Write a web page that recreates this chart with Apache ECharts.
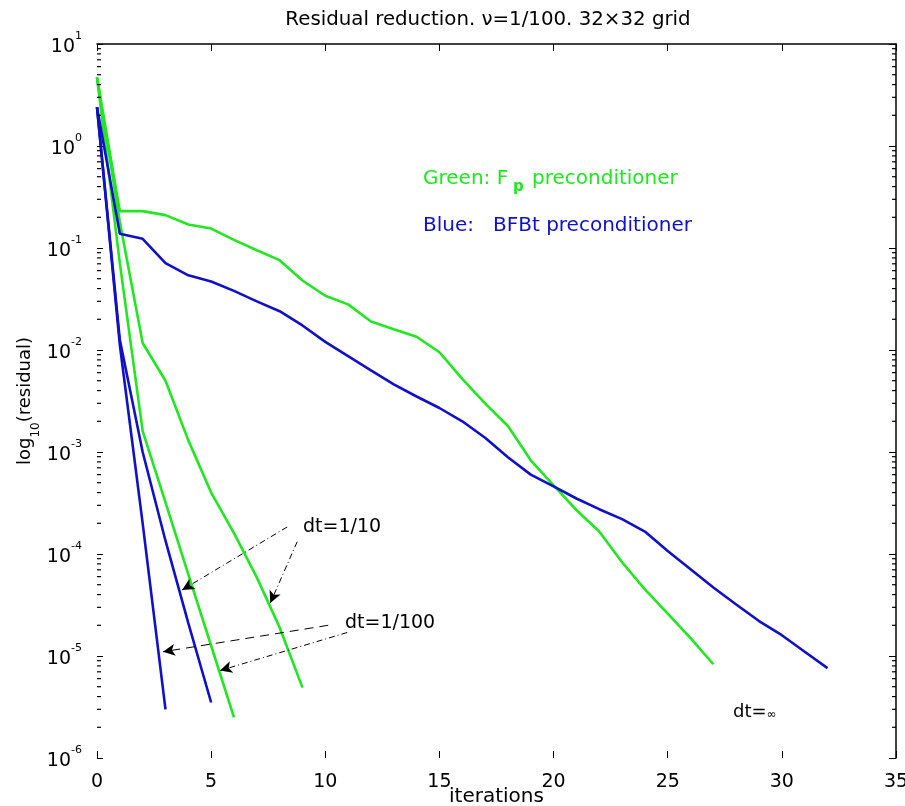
<!DOCTYPE html>
<html><head><meta charset="utf-8">
<script src="https://cdn.jsdelivr.net/npm/echarts@6/dist/echarts.min.js"></script>
<style>html,body{margin:0;padding:0;background:#fff;width:100%;height:100%;overflow:hidden}#c{width:100vw;height:100vh}</style>
</head><body><div id="c"></div>
<script>
// ---------------- data ----------------
const iterations = [0,1,2,3,4,5,6,7,8,9,10,11,12,13,14,15,16,17,18,19,20,21,22,23,24,25,26,27,28,29,30,31,32];
const xTicks = [0,5,10,15,20,25,30,35];
const yTickExponents = [-6,-5,-4,-3,-2,-1,0,1];

// Green: Fp preconditioner
const greenDtInf = [4.7,0.23,0.23,0.21,0.17,0.155,0.12,0.095,0.076,0.048,0.034,0.028,0.019,0.016,0.0135,0.0095,0.0052,0.0030,0.0018,8.3e-4,4.7e-4,2.7e-4,1.66e-4,8.3e-5,4.5e-5,2.6e-5,1.5e-5,8.3e-6];
const greenDt10 = [4.7,0.18,0.0117,0.005,0.0013,4.0e-4,1.6e-4,5.9e-5,1.9e-5,4.9e-6];
const greenDt100 = [4.7,0.071,0.0016,3.2e-4,6.3e-5,1.26e-5,2.5e-6];
// Blue: BFBt preconditioner
const blueDtInf = [2.4,0.138,0.123,0.071,0.054,0.047,0.038,0.030,0.024,0.0174,0.012,0.0087,0.0063,0.0046,0.0035,0.0027,0.0020,0.00138,8.9e-4,6.0e-4,4.6e-4,3.5e-4,2.75e-4,2.2e-4,1.66e-4,1.07e-4,7.1e-5,4.7e-5,3.2e-5,2.2e-5,1.6e-5,1.1e-5,7.6e-6];
const blueDt10 = [2.4,0.0126,0.001,1.35e-4,2.1e-5,3.5e-6];
const blueDt100 = [2.4,0.0112,2.0e-4,3.0e-6];

// annotation arrows (data coordinates: [iteration, residual])
const arrows = [
  {from:[8.33,1.84e-4], to:[3.73,4.44e-5], dash:[6,3,1,3]},
  {from:[8.77,1.32e-4], to:[7.59,3.3e-5], dash:[6,3,1,3]},
  {from:[10.13,2.0e-5], to:[2.89,1.1e-5], dash:[9,6]},
  {from:[10.96,1.7e-5], to:[5.39,7.2e-6], dash:[6,3,1,3]}
];

// ---------------- chart ----------------
const GREEN = '#22e622', BLUE = '#1010c8';
const AXFONT = 'DejaVu Sans';
const minorVals = [];
for (let k = -6; k <= 0; k++) for (let m = 2; m <= 9; m++) minorVals.push([0, m * Math.pow(10, k)]);

function pairs(vals) { return vals.map((v, i) => [iterations[i], v]); }
function lineSeries(name, vals, color) {
  return {type:'line', name, data: pairs(vals), symbol:'none', smooth:false,
    lineStyle:{color, width:2.6}, itemStyle:{color}, z:3, animation:false};
}

const chart = echarts.init(document.getElementById('c'), null, {renderer:'canvas'});
const supRich = {
  b:{fontFamily:AXFONT, fontSize:19, color:'#000', lineHeight:26, verticalAlign:'bottom'},
  s:{fontFamily:AXFONT, fontSize:11, color:'#000', lineHeight:26, verticalAlign:'top'}
};
const option = {
  animation:false,
  backgroundColor:'#fff',
  title:{text:'Residual reduction. \u03bd=1/100. 32\u00d732 grid', left:483, top:5, textAlign:'center',
    textStyle:{fontFamily:AXFONT, fontSize:19.8, fontWeight:'normal', color:'#000'}},
  grid:{left:97, right:9, top:44, bottom:48, containLabel:false, outerBoundsMode:'none'},
  xAxis:[
    {type:'value', min:0, max:35, interval:5, position:'bottom',
      name:'iterations', nameLocation:'middle', nameGap:39, nameMoveOverlap:false,
      nameTextStyle:{fontFamily:AXFONT, fontSize:20, color:'#000', verticalAlign:'middle'},
      axisLine:{show:false, onZero:false},
      axisTick:{show:true, inside:true, length:7, lineStyle:{color:'#000'}},
      axisLabel:{fontFamily:AXFONT, fontSize:19, color:'#000', margin:15,
        formatter:v => xTicks.includes(v) ? String(v) : ''},
      splitLine:{show:false}},
    {type:'value', min:0, max:35, interval:5, position:'top',
      axisLine:{show:true, onZero:false, lineStyle:{color:'#000', width:1.5}},
      axisTick:{show:true, inside:true, length:7, lineStyle:{color:'#000'}},
      axisLabel:{show:false}, splitLine:{show:false}}
  ],
  yAxis:[
    {type:'log', logBase:10, min:1e-6, max:10, position:'left',
      name:'{a|log}{s|10}{a|(residual)}', nameLocation:'middle', nameGap:55, nameRotate:90, nameMoveOverlap:false,
      nameTextStyle:{rich:{
        a:{fontFamily:AXFONT, fontSize:18, color:'#000', lineHeight:26, verticalAlign:'top'},
        s:{fontFamily:AXFONT, fontSize:12, color:'#000', lineHeight:26, verticalAlign:'bottom'}}},
      axisLine:{show:false, onZero:false},
      axisTick:{show:true, inside:true, length:6, lineStyle:{color:'#000'}},
      axisLabel:{margin:15, formatter:v => {
        const e = Math.round(Math.log10(v));
        return yTickExponents.includes(e) ? '{b|10}{s|' + e + '}' : '';
      }, rich:supRich},
      splitLine:{show:false}},
    {type:'log', logBase:10, min:1e-6, max:10, position:'right',
      axisLine:{show:true, onZero:false, lineStyle:{color:'#000', width:1.5}},
      axisTick:{show:true, inside:true, length:7, lineStyle:{color:'#000'}},
      axisLabel:{show:false}, splitLine:{show:false}}
  ],
  series:[
    lineSeries('Fp dt=inf', greenDtInf, GREEN),
    lineSeries('Fp dt=1/10', greenDt10, GREEN),
    lineSeries('Fp dt=1/100', greenDt100, GREEN),
    lineSeries('BFBt dt=inf', blueDtInf, BLUE),
    lineSeries('BFBt dt=1/10', blueDt10, BLUE),
    lineSeries('BFBt dt=1/100', blueDt100, BLUE),
    {type:'custom', name:'minorTicks', silent:true, z:5, data:minorVals, encode:{x:0, y:1},
      renderItem:(params, api) => {
        const v = api.value(1);
        const pL = api.coord([0, v]), pR = api.coord([35, v]);
        return {type:'group', children:[
          {type:'line', shape:{x1:pL[0], y1:pL[1], x2:pL[0]+4, y2:pL[1]}, style:{stroke:'#000', lineWidth:1.2}},
          {type:'line', shape:{x1:pR[0]-4, y1:pR[1], x2:pR[0], y2:pR[1]}, style:{stroke:'#000', lineWidth:1.2}}
        ]};
      }},
    {type:'line', name:'arrows', data:[], silent:true,
      markLine:{silent:true, symbol:['none','arrow'], symbolSize:[9,12], animation:false,
        label:{show:false},
        data: arrows.map(a => [
          {coord:a.from, lineStyle:{color:'#000', width:1, type:a.dash}},
          {coord:a.to}
        ])}}
  ],
  graphic:[
    {type:'text', left:423, top:169, style:{text:'Green: F', font:'20px "DejaVu Sans"', fill:GREEN}},
    {type:'text', left:513, top:180, style:{text:'p', font:'bold 15px "DejaVu Sans"', fill:GREEN}},
    {type:'text', left:532, top:169, style:{text:'preconditioner', font:'20px "DejaVu Sans"', fill:GREEN}},
    {type:'text', left:423, top:216, style:{text:'Blue:', font:'20px "DejaVu Sans"', fill:BLUE}},
    {type:'text', left:493, top:216, style:{text:'BFBt preconditioner', font:'20px "DejaVu Sans"', fill:BLUE}},
    {type:'text', left:303, top:518, style:{text:'dt=1/10', font:'19px "DejaVu Sans"', fill:'#000'}},
    {type:'text', left:345, top:614, style:{text:'dt=1/100', font:'19px "DejaVu Sans"', fill:'#000'}},
    {type:'text', left:733, top:703, style:{text:'{a|dt=}{b|\u221e}', rich:{
      a:{fontFamily:AXFONT, fontSize:18, fill:'#000', lineHeight:20, verticalAlign:'bottom'},
      b:{fontFamily:AXFONT, fontSize:12, fill:'#000', lineHeight:20, verticalAlign:'bottom'}}}}
  ]
};
chart.setOption(option);
window.addEventListener('resize', () => chart.resize());
</script>
</body></html>
